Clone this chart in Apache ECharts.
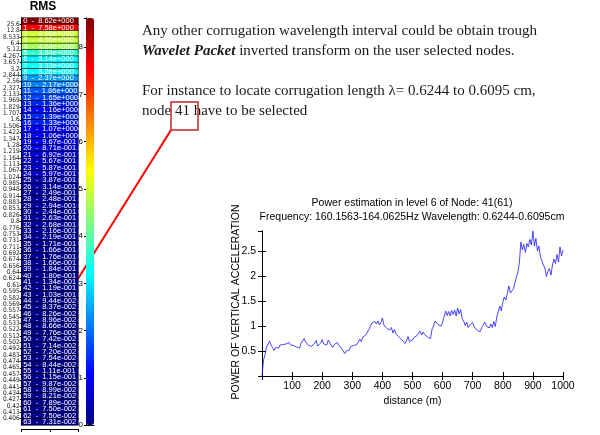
<!DOCTYPE html>
<html><head><meta charset="utf-8">
<script src="https://cdn.jsdelivr.net/npm/echarts@6/dist/echarts.min.js"></script>
<style>html,body{margin:0;padding:0;background:#fff}#c{width:600px;height:435px}</style>
</head><body><div id="c"></div><script>
// ---- RMS table (wavelet packet nodes, level 6) ----
const nodes = [0,1,2,3,4,5,6,7,8,9,10,11,12,13,14,15,16,17,18,19,20,21,22,23,24,25,26,27,28,29,30,31,
  32,33,34,35,36,37,38,39,40,41,42,43,44,45,46,47,48,49,50,51,52,53,54,55,56,57,58,59,60,61,62,63];
const rmsValues = [8.62,7.58,4.96,4.90,4.64,3.64,3.14,3.33,3.26,2.37,2.17,1.86,1.65,1.36,1.16,1.39,
  1.33,1.07,1.06,0.967,0.871,0.692,0.567,0.587,0.597,0.387,0.314,0.249,0.248,0.294,0.244,0.263,
  0.268,0.216,0.219,0.171,0.166,0.176,0.166,0.184,0.180,0.134,0.119,0.103,0.0944,0.0837,0.0826,0.0896,
  0.0866,0.0776,0.0742,0.0714,0.0720,0.0754,0.0844,0.111,0.115,0.0987,0.0899,0.0821,0.0789,0.0750,0.0750,0.0731];
const wavelengthTicks = ['Inf','25.6','12.8','8.533','6.4','5.12','4.267','3.657','3.2','2.844','2.56','2.327',
  '2.133','1.969','1.829','1.707','1.6','1.506','1.422','1.347','1.28','1.219','1.164','1.113','1.067','1.024',
  '0.985','0.948','0.914','0.883','0.853','0.826','0.8','0.776','0.753','0.731','0.711','0.692','0.674','0.656',
  '0.64','0.624','0.61','0.595','0.582','0.569','0.557','0.545','0.533','0.522','0.512','0.502','0.492','0.483',
  '0.474','0.465','0.457','0.449','0.441','0.434','0.427','0.42','0.413','0.406','0.4'];
const colorbarTicks = [0,1,2,3,4,5,6,7,8];
const selectedNode = 41;

// ---- Power estimation of node 41 ----
const distance = [0,5,10,15,20,25,30,35,40,45,50,55,60,65,70,75,80,85,90,95,
  100,105,110,115,120,125,130,135,140,145,150,155,160,165,170,175,180,185,190,195,
  200,205,210,215,220,225,230,235,240,245,250,255,260,265,270,275,280,285,290,295,
  300,305,310,315,320,325,330,335,340,345,350,355,360,365,370,375,380,385,390,395,
  400,405,410,415,420,425,430,435,440,445,450,455,460,465,470,475,480,485,490,495,
  500,505,510,515,520,525,530,535,540,545,550,555,560,565,570,575,580,585,590,595,
  600,605,610,615,620,625,630,635,640,645,650,655,660,665,670,675,680,685,690,695,
  700,705,710,715,720,725,730,735,740,745,750,755,760,765,770,775,780,785,790,795,
  800,805,810,815,820,825,830,835,840,845,850,855,860,865,870,875,880,885,890,895,
  900,905,910,915,920,925,930,935,940,945,950,955,960,965,970,975,980,985,990,995,1000];
const power = [0.00,0.32,0.42,0.58,0.64,0.70,0.62,0.57,0.51,0.57,
  0.60,0.56,0.62,0.58,0.63,0.59,0.64,0.60,0.67,0.62,
  0.66,0.61,0.64,0.58,0.61,0.56,0.66,0.70,0.75,0.68,
  0.72,0.61,0.64,0.59,0.63,0.66,0.71,0.60,0.57,0.66,
  0.73,0.64,0.68,0.62,0.72,0.66,0.64,0.57,0.63,0.60,
  0.67,0.62,0.60,0.54,0.52,0.45,0.50,0.54,0.52,0.59,
  0.55,0.61,0.57,0.63,0.68,0.74,0.69,0.78,0.76,0.82,
  0.84,0.93,0.97,1.06,1.03,1.09,1.04,1.10,1.02,1.07,
  1.16,1.02,1.06,0.95,0.99,0.92,0.97,0.86,0.93,0.84,
  0.83,0.78,0.81,0.72,0.74,0.65,0.70,0.79,0.69,0.71,
  0.72,0.77,0.74,0.81,0.85,0.90,0.82,0.88,0.83,0.85,
  0.78,0.81,0.75,0.94,1.00,1.10,1.13,1.03,1.07,1.00,
  1.08,1.10,1.30,1.21,1.29,1.20,1.31,1.23,1.32,1.20,
  1.36,1.24,1.33,1.15,1.10,1.01,1.08,0.97,1.02,0.99,
  1.07,0.98,1.01,0.91,0.93,0.89,0.97,0.95,1.08,1.00,
  1.03,0.96,1.04,0.97,1.09,0.99,1.18,1.22,1.40,1.30,
  1.48,1.58,1.52,1.65,1.80,1.66,1.63,1.74,1.86,1.82,
  2.08,2.26,2.68,2.52,2.63,2.47,2.65,2.58,2.73,2.62,
  2.90,2.60,2.75,2.50,2.60,2.38,2.35,2.22,2.15,1.99,
  2.10,2.15,2.02,2.22,2.34,2.25,2.43,2.28,2.58,2.40,2.52];
const yTicks = [0.5,1,1.5,2,2.5];

const jet = ['#000080','#0000ff','#0080ff','#00ffff','#80ff80','#ffff00','#ff8000','#ff0000','#800000'];
const rmsMax = Math.max.apply(null, rmsValues);
function fmtE(v){ return v.toExponential(2).replace(/e([+-])(\d+)/, (m,s,d)=>'e'+s+d.padStart(3,'0')); }

const heatData = nodes.map((n,i)=>[0, i, rmsValues[i]]);
const lineData = distance.map((d,i)=>[d, power[i]]);
const sans = 'Liberation Sans, Arial, sans-serif';
const serif = 'Liberation Serif, Times New Roman, serif';
const cond = 'DejaVu Sans Condensed, Liberation Sans, sans-serif';

const option = {
  animation: false,
  backgroundColor: '#fff',
  grid: [
    {left: 20, top: 18, width: 58, height: 407},
    {left: 86, top: 18, width: 8, height: 407},
    {left: 262, top: 231, width: 301, height: 145}
  ],
  visualMap: {
    type: 'continuous', seriesIndex: 0, min: 0, max: rmsMax,
    left: 86, top: 18, itemWidth: 8, itemHeight: 407, padding: 0,
    calculable: false, hoverLink: false, text: null,
    inRange: {color: jet}
  },
  xAxis: [
    {gridIndex: 0, type: 'category', data: ['RMS'], show: false},
    {gridIndex: 0, type: 'value', min: 0, max: 2, interval: 1, position: 'bottom', offset: 4,
      axisLine: {lineStyle: {color: '#000', width: 1}}, axisTick: {length: 3, lineStyle: {color:'#000'}},
      axisLabel: {show: false}, splitLine: {show: false}},
    {gridIndex: 1, type: 'value', min: 0, max: 1, position: 'bottom',
      axisLine: {lineStyle: {color: '#000'}}, axisTick: {show: false}, axisLabel: {show: false}, splitLine: {show: false}},
    {gridIndex: 1, type: 'value', min: 0, max: 1, position: 'top',
      axisLine: {lineStyle: {color: '#000'}}, axisTick: {show: false}, axisLabel: {show: false}, splitLine: {show: false}},
    {gridIndex: 2, type: 'value', min: 0, max: 1000, interval: 100, position: 'bottom',
      name: 'distance (m)', nameLocation: 'middle', nameGap: 20,
      nameTextStyle: {fontFamily: sans, fontSize: 10.5, color: '#000'},
      axisLine: {lineStyle: {color: '#000', width: 1}},
      axisTick: {inside: true, length: 4, lineStyle: {color: '#000'}},
      axisLabel: {showMinLabel: false, formatter: v => String(v), fontFamily: sans, fontSize: 10.5, color: '#000', margin: 5},
      splitLine: {show: false}},
    {gridIndex: 2, type: 'value', min: 0, max: 1000, interval: 100, position: 'top',
      axisLine: {lineStyle: {color: '#000', width: 1}},
      axisTick: {inside: true, length: 4, lineStyle: {color: '#000'}},
      axisLabel: {show: false}, splitLine: {show: false}}
  ],
  yAxis: [
    {gridIndex: 0, type: 'category', data: nodes, inverse: true, show: false},
    {gridIndex: 0, type: 'value', min: 0, max: 64, interval: 1, inverse: true, position: 'left',
      axisLine: {lineStyle: {color: '#000'}}, axisTick: {length: 2, lineStyle: {color: '#000'}},
      axisLabel: {formatter: v => wavelengthTicks[v], fontFamily: cond, fontSize: 6.5, color: '#222', margin: 2},
      splitLine: {show: false}},
    {gridIndex: 1, type: 'value', min: 0, max: rmsMax, interval: 1, position: 'left',
      axisLine: {lineStyle: {color: '#000'}},
      axisTick: {inside: true, length: 2, lineStyle: {color: '#000'}},
      axisLabel: {showMaxLabel: false, formatter: v => colorbarTicks.indexOf(v) >= 0 ? String(v) : '', fontFamily: sans, fontSize: 8, color: '#000', margin: 3},
      splitLine: {show: false}},
    {gridIndex: 1, type: 'value', min: 0, max: rmsMax, interval: 1, position: 'right',
      axisLine: {lineStyle: {color: '#000'}},
      axisTick: {inside: true, length: 2, lineStyle: {color: '#000'}},
      axisLabel: {show: false}, splitLine: {show: false}},
    {gridIndex: 2, type: 'value', min: 0, max: 2.9, interval: 0.5, position: 'left',
      axisLine: {lineStyle: {color: '#000', width: 1}},
      axisTick: {inside: true, length: 4, lineStyle: {color: '#000'}},
      axisLabel: {showMinLabel: false, showMaxLabel: false, formatter: v => yTicks.indexOf(v) >= 0 ? String(v) : '', fontFamily: sans, fontSize: 10.5, color: '#000', margin: 6},
      splitLine: {show: false}},
    {gridIndex: 2, type: 'value', min: 0, max: 2.9, interval: 0.5, position: 'right',
      axisLine: {lineStyle: {color: '#000', width: 1}},
      axisTick: {inside: true, length: 4, lineStyle: {color: '#000'}},
      axisLabel: {show: false}, splitLine: {show: false}}
  ],
  series: [
    {type: 'heatmap', xAxisIndex: 0, yAxisIndex: 0, data: heatData,
      itemStyle: {borderColor: '#000', borderWidth: 0.6},
      label: {show: true, position: 'insideLeft', distance: 2,
        formatter: p => nodes[p.data[1]] + '  -  ' + fmtE(p.data[2]),
        color: '#fff', fontFamily: sans, fontSize: 7.5},
      emphasis: {disabled: true}},
    {type: 'line', xAxisIndex: 4, yAxisIndex: 4, data: lineData, showSymbol: false,
      lineStyle: {color: '#1a1aff', width: 0.8}, itemStyle: {color: '#1a1aff'}}
  ]
};

const chart = echarts.init(document.getElementById('c'));
chart.setOption(option);

const yNode = chart.convertToPixel({yAxisIndex: 1}, selectedNode);
const xTable = chart.convertToPixel({xAxisIndex: 1}, 2);

chart.setOption({
  graphic: [
    {type: 'text', x: 43, y: 1, style: {text: 'RMS', fontFamily: sans, fontWeight: 'bold', fontSize: 12, fill: '#000', textAlign: 'center'}},
    {type: 'text', x: 142, y: 24, style: {text: 'Any other corrugation wavelength interval could be obtain trough', fontFamily: serif, fontSize: 15, fill: '#1a1a1a'}},
    {type: 'text', x: 142, y: 44, style: {
      text: '{bi|Wavelet Packet} inverted transform on the user selected nodes.',
      fontFamily: serif, fontSize: 15, fill: '#1a1a1a',
      rich: {bi: {fontFamily: serif, fontSize: 15, fontWeight: 'bold', fontStyle: 'italic', fill: '#1a1a1a'}}}},
    {type: 'text', x: 142, y: 84, style: {text: 'For instance to locate corrugation length \u03bb= 0.6244 to 0.6095 cm,', fontFamily: serif, fontSize: 15, fill: '#1a1a1a'}},
    {type: 'text', x: 142, y: 104, style: {text: 'node ' + selectedNode + ' have to be selected', fontFamily: serif, fontSize: 15, fill: '#1a1a1a'}},
    {type: 'rect', shape: {x: 171, y: 102, width: 27, height: 28}, style: {fill: 'none', stroke: '#c0282d', lineWidth: 1.5}},
    {type: 'line', shape: {x1: xTable, y1: yNode, x2: 171, y2: 130}, style: {stroke: '#ff0000', lineWidth: 2}},
    {type: 'text', x: 412, y: 198, style: {text: 'Power estimation in level 6 of Node: 41(61)', fontFamily: sans, fontSize: 10.5, fill: '#000', textAlign: 'center'}},
    {type: 'text', x: 412, y: 212, style: {text: 'Frequency: 160.1563-164.0625Hz Wavelength: 0.6244-0.6095cm', fontFamily: sans, fontSize: 10.5, fill: '#000', textAlign: 'center'}},
    {type: 'text', x: 236, y: 302, rotation: Math.PI / 2,
      style: {text: 'POWER OF VERTICAL ACCELERATION', fontFamily: sans, fontSize: 10.5, fill: '#000', textAlign: 'center', textVerticalAlign: 'middle'}}
  ]
});
</script></body></html>
